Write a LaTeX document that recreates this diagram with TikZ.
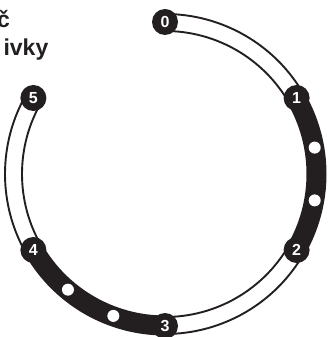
\documentclass[tikz,border=0pt]{standalone}
\usepackage{fontspec}
\setmainfont{Liberation Sans}
\usetikzlibrary{calc}
\definecolor{ink}{HTML}{231F20}
\begin{document}
\begin{tikzpicture}[x=1pt,y=1pt,
  badge/.style={circle,fill=ink,minimum size=26pt,inner sep=0pt,text=white,font=\bfseries\fontsize{16}{16}\selectfont},
  rail/.style={draw=ink,line width=1.9pt},
  fullband/.style={draw=ink,line width=20pt},
  dot/.style={circle,fill=white,minimum size=12pt,inner sep=0pt},
  title/.style={text=ink,font=\bfseries\fontsize{23}{23}\selectfont,inner sep=0pt}]
\useasboundingbox (0,0) rectangle (327,337);
\coordinate (C) at (165,163);
% white bands
\draw[rail] ($(C)+(90:160)$) arc[start angle=90,end angle=30,radius=160];
\draw[rail] ($(C)+(90:143)$) arc[start angle=90,end angle=30,radius=143];
\draw[rail] ($(C)+(-30:160)$) arc[start angle=-30,end angle=-90,radius=160];
\draw[rail] ($(C)+(-30:143)$) arc[start angle=-30,end angle=-90,radius=143];
\draw[rail] ($(C)+(210:160)$) arc[start angle=210,end angle=150,radius=160];
\draw[rail] ($(C)+(210:143)$) arc[start angle=210,end angle=150,radius=143];
% black bands
\draw[fullband] ($(C)+(30:151.5)$) arc[start angle=30,end angle=-30,radius=151.5];
\draw[fullband] ($(C)+(270:151.5)$) arc[start angle=270,end angle=210,radius=151.5];
% dots
\node[dot] (d1) at ($(C)+(10:152)$) {};
\node[dot] (d2) at ($(C)+(-10:152)$) {};
\node[dot] (d3) at ($(C)+(250:151)$) {};
\node[dot] (d4) at ($(C)+(230:151)$) {};
% badges
\node[badge] (b0) at ($(C)+(90:152)$) {0};
\node[badge] (b1) at ($(C)+(30:152)$) {1};
\node[badge] (b2) at ($(C)+(-30:152)$) {2};
\node[badge] (b3) at ($(C)+(-90:152)$) {3};
\node[badge] (b4) at ($(C)+(210:152)$) {4};
\node[badge] (b5) at ($(C)+(150:152)$) {5};
% cropped title
\node[title,anchor=base east] (t1) at (10,309) {č};
\node[title,anchor=base east] (t2) at (48.5,281) {ivky};
\end{tikzpicture}
\end{document}
